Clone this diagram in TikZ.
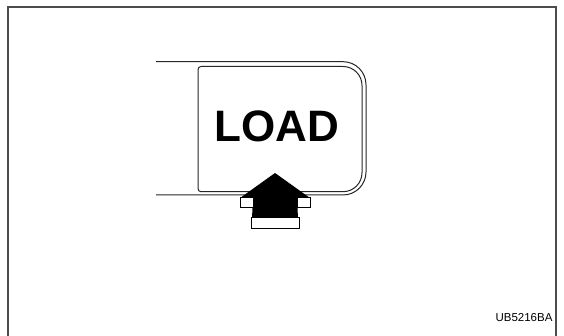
\documentclass[tikz,border=0pt]{standalone}
\usepackage{fontspec}
\setmainfont{Liberation Sans}
\usetikzlibrary{positioning}

\begin{document}
\begin{tikzpicture}[x=1pt,y=-1pt,
  frameline/.style={line width=1pt,draw=black!85},
  border/.style={line width=2pt,draw=black!70},
  band/.style={fill=white,draw=black,line width=1pt},
  label/.style={inner sep=0pt,font=\fontsize{11.5}{13}\selectfont}]
  \useasboundingbox (0,0) rectangle (564,336);
  % picture frame
  \draw[border] (8,336) -- (8,7) -- (556,7) -- (556,336);
  % panel opening
  \draw[frameline,rounded corners=23] (156,61.7) -- (366,61.7) -- (366,195) -- (156,195);
  % button
  \draw[frameline] (198,129) [rounded corners=3] -- (198,66.5) -- (280,66.5)
    [rounded corners=19] -- (362,66.5) -- (362,191.7) -- (280,191.7)
    [rounded corners=3] -- (198,191.7) -- cycle;
  \node[inner sep=0pt,font=\bfseries\fontsize{44}{50}\selectfont] (load) at (276.5,126.5) {LOAD};
  % push arrow
  \fill (275,173) -- (240,198) -- (253,198) -- (252,218) -- (298,218) -- (297,198) -- (310,198) -- cycle;
  \draw[band] (240,198) rectangle (253,208);
  \draw[band] (297,198) rectangle (310,208);
  \draw[band] (251,218) rectangle (299,228.5);
  \node[label] (code) at (524,318) {UB5216BA};
\end{tikzpicture}
\end{document}
